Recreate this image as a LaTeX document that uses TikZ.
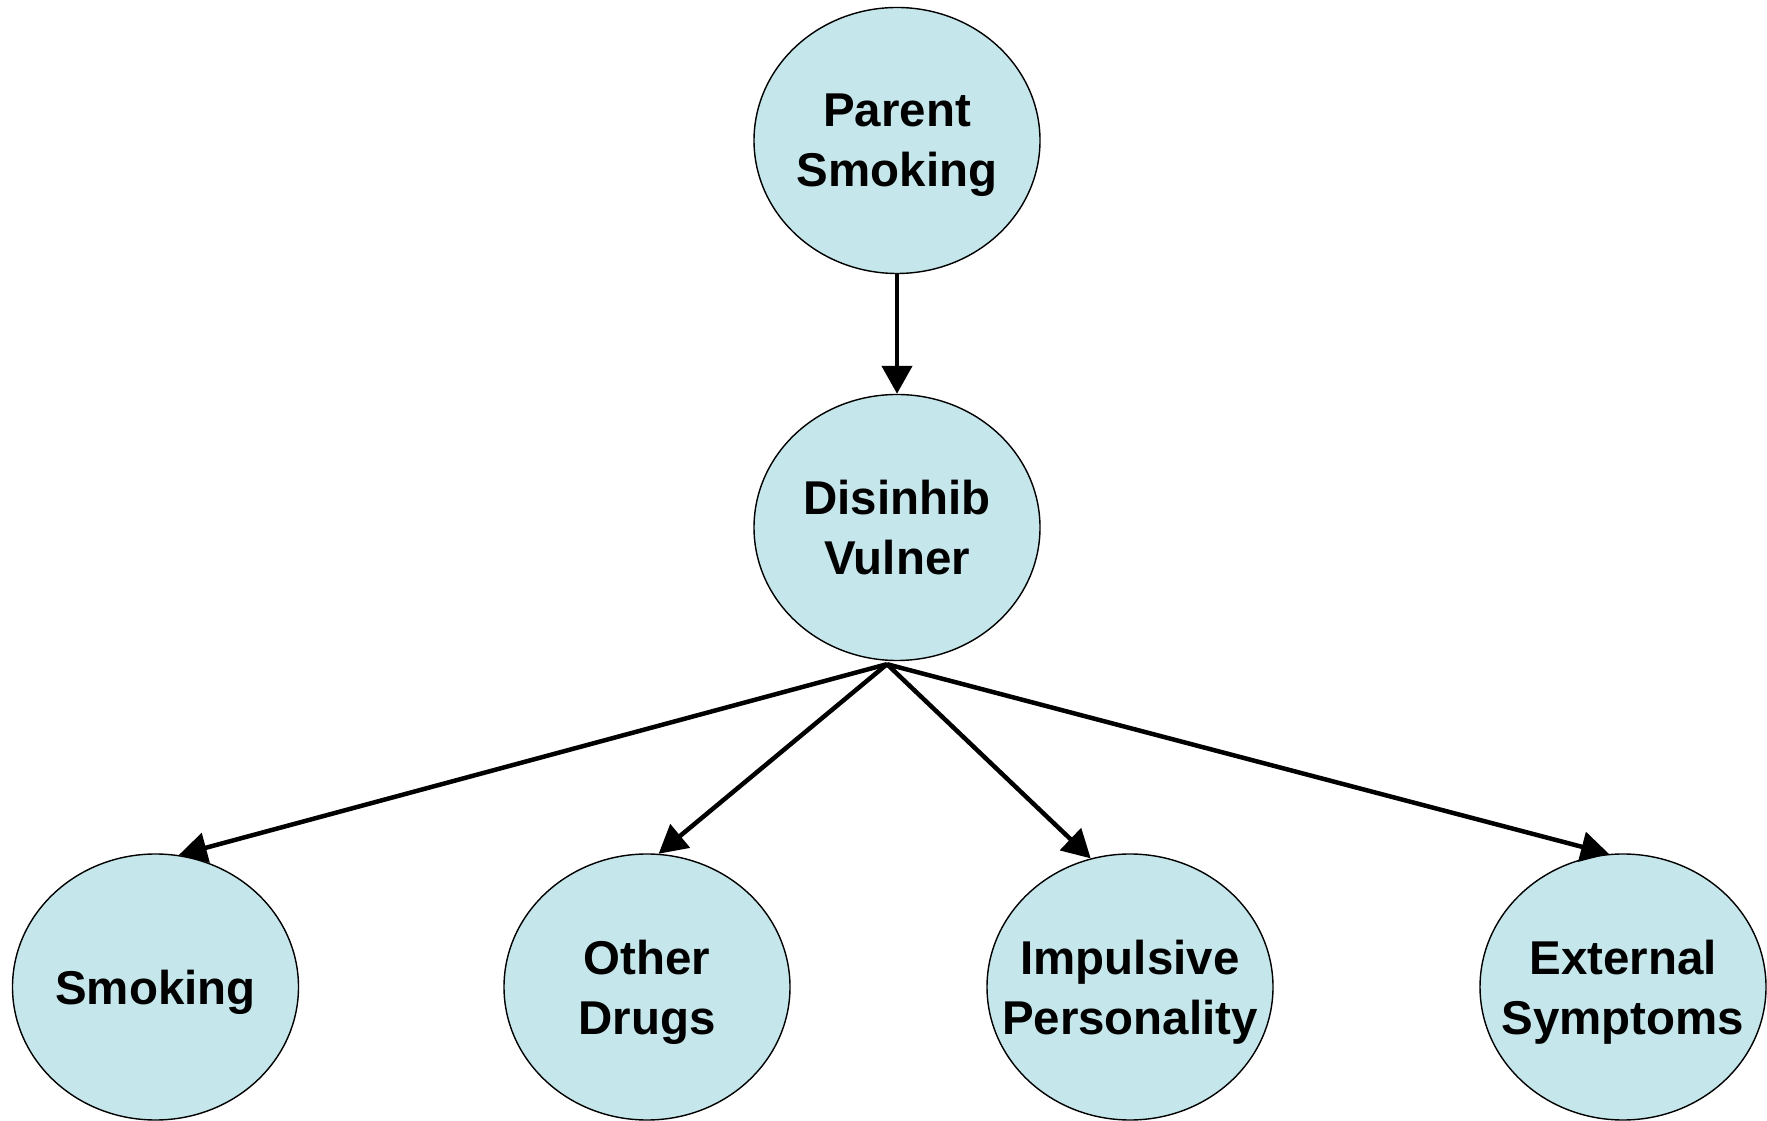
\documentclass[tikz,border=0pt]{standalone}
\usepackage{fontspec}
\setmainfont{Liberation Sans}
\usetikzlibrary{shapes.geometric,arrows.meta}
\definecolor{nodefill}{HTML}{C5E6EA}
\tikzset{>={Triangle[length=2.8mm,width=3mm]}}
\tikzset{
	var/.style={ellipse, draw, line width=0.4pt, fill=nodefill, minimum width=28.6mm,
		minimum height=26.6mm, inner xsep=-3mm, inner ysep=0pt, text depth=0pt,
		align=center, font=\fontsize{13.5}{17}\selectfont\bfseries},
	link/.style={->, line width=0.45mm}
}

\begin{document}
\begin{tikzpicture}
		\useasboundingbox (0,0) rectangle (17.67,-11.21);
		\node[var] (ps) at (8.97,-1.405) {Parent\\Smoking};
		\node[var] (dv) at (8.97,-5.275) {Disinhib\\Vulner};
		\node[var] (sm) at (1.555,-9.87) {Smoking};
		\node[var] (od) at (6.47,-9.87) {Other\\Drugs};
		\node[var] (ip) at (11.30,-9.87) {Impulsive\\Personality};
		\node[var] (es) at (16.23,-9.87) {External\\Symptoms};
		\coordinate (hub) at ([shift={(-0.1,-0.03)}]dv.south);
		\draw[link] (ps) -- (dv);
		\draw[link] (hub) -- (sm.80);
		\draw[link] (hub) -- (od.85);
		\draw[link] (hub) -- (ip.107);
		\draw[link] (hub) -- (es.96);
	\end{tikzpicture}
\end{document}
